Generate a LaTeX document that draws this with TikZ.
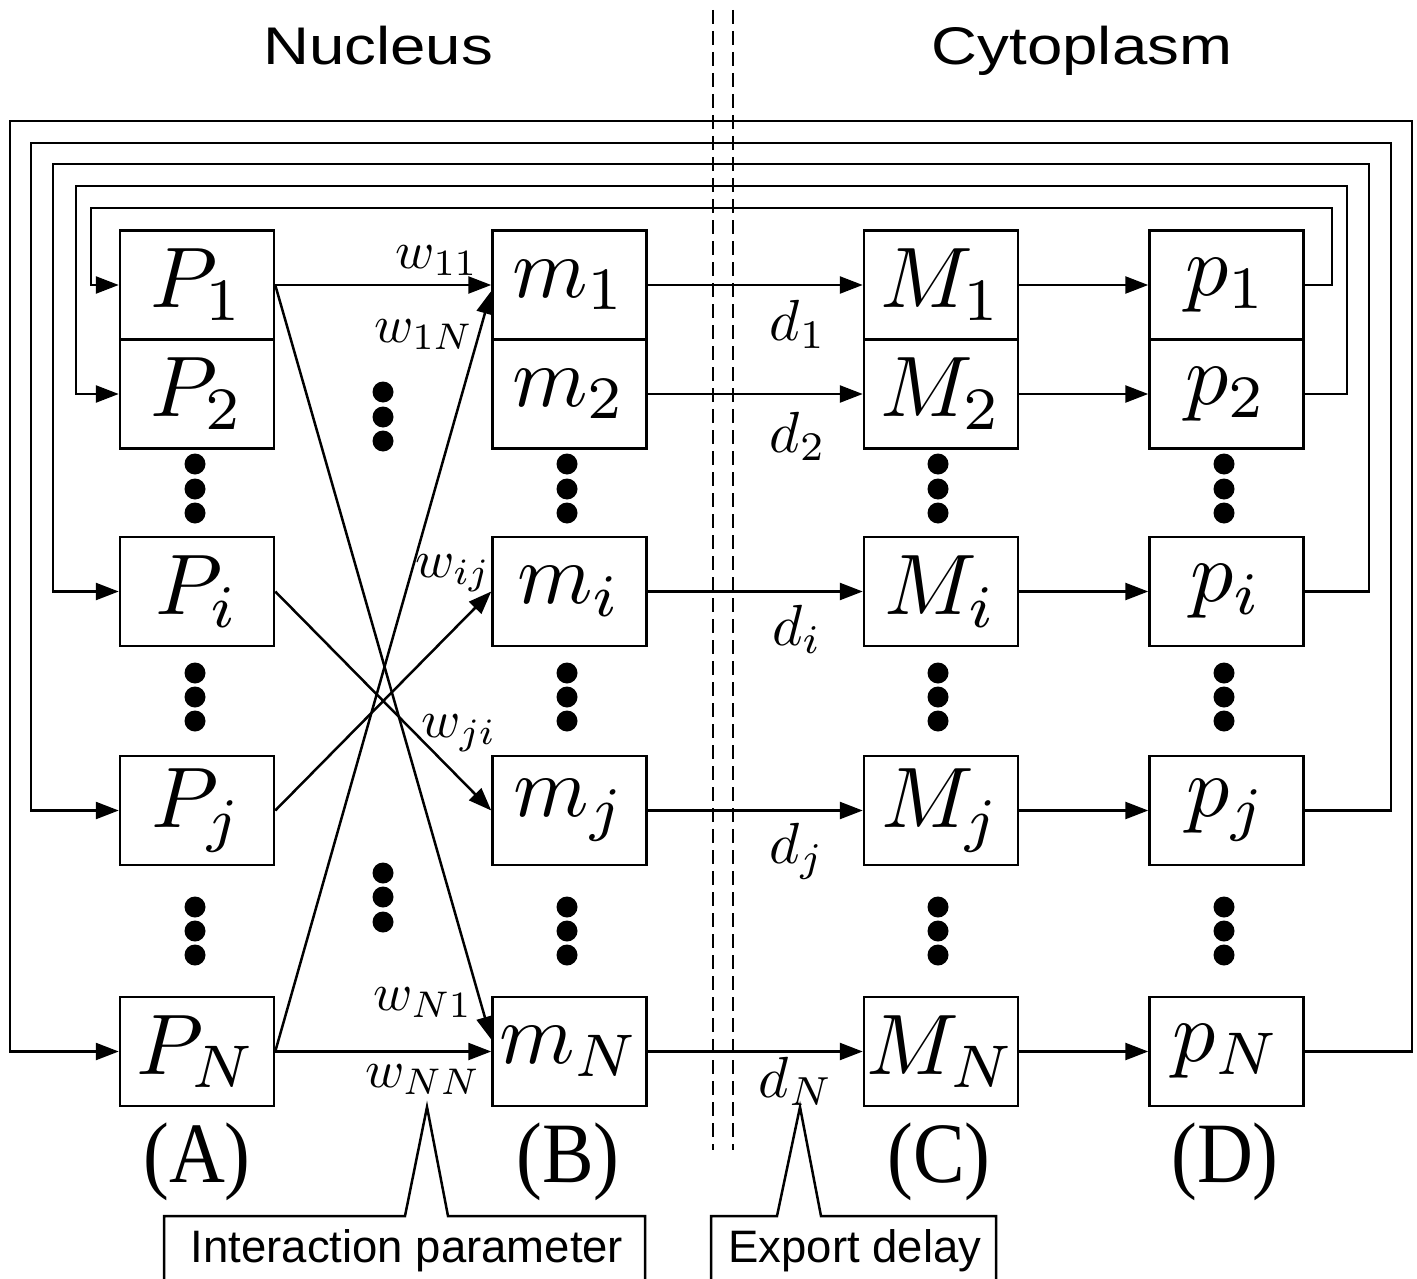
\RequirePackage{fix-cm}
\documentclass[tikz,border=0pt]{standalone}
\usepackage{fontspec}
\newfontfamily\hel{Liberation Sans}
\newfontfamily\tim{Liberation Serif}
\usetikzlibrary{arrows.meta}
\newcommand{\bx}[1]{\scalebox{8.6}{$#1$}}
\newcommand{\wlab}[1]{\scalebox{5.3}{$#1$}}
\newcommand{\dlab}[1]{\scalebox{5.8}{$#1$}}
\begin{document}
\begin{tikzpicture}[x=1pt,y=-1pt,
  box/.style={draw,line width=2.5pt,minimum width=154pt,minimum height=109pt,inner sep=0pt},
  arr/.style={line width=2.5pt,-{Triangle[length=23pt,width=17pt]}},
  ln/.style={line width=2.5pt},
  wl/.style={anchor=base,inner sep=0pt},
  dl/.style={anchor=base,inner sep=0pt},
  hd/.style={anchor=base,inner sep=0pt,font=\hel\fontsize{53}{56}\selectfont},
  cl/.style={anchor=base,inner sep=0pt,font=\tim\fontsize{86}{90}\selectfont},
  co/.style={anchor=base,inner sep=0pt,font=\hel\fontsize{45.5}{48}\selectfont},
  dsh/.style={line width=2pt,dash pattern=on 14pt off 7pt},
  dot/.style={fill=black}
]
\useasboundingbox (0,0) rectangle (1417,1279);
% boxes
\foreach \c/\x/\l in {A/197/P,B/569.5/m,C/941/M,D/1226.5/p}{
  \node[box] (\c1) at (\x,285) {\bx{\l_1}};
  \node[box] (\c2) at (\x,394) {\bx{\l_2}};
  \node[box] (\c i) at (\x,591.5) {\bx{\l_i}};
  \node[box] (\c j) at (\x,810.5) {\bx{\l_j}};
  \node[box] (\c N) at (\x,1051.5) {\bx{\l_N}};
}
% dots in columns
\foreach \x in {195,567,938,1224}{
  \foreach \y in {464,489,513,673,697,721,907,931,955}{
    \fill[dot] (\x,\y) circle (10.5pt);
  }
}
\foreach \y in {392,417,441,873,897,922}{
  \fill[dot] (383,\y) circle (10.5pt);
}
% A -> B
\draw[arr] (A1.east) -- (B1.west);
\draw[arr] (AN.east) -- (BN.west);
\draw[arr] (A1.east) -- ([yshift=12pt]BN.west);
\draw[arr] (AN.east) -- ([yshift=-6pt]B1.west);
\draw[arr] (Ai.east) -- (Bj.west);
\draw[arr] (Aj.east) -- (Bi.west);
% B -> C -> D
\foreach \r in {1,2,i,j,N}{
  \draw[arr] (B\r.east) -- (C\r.west);
  \draw[arr] (C\r.east) -- (D\r.west);
}
% feedback
\draw[arr] (D1.east) -| (1332,208) -| ([xshift=-28pt]A1.west) -- (A1.west);
\draw[arr] (D2.east) -| (1347,186) -| ([xshift=-43pt]A2.west) -- (A2.west);
\draw[arr] (Di.east) -| (1369,164) -| ([xshift=-66pt]Ai.west) -- (Ai.west);
\draw[arr] (Dj.east) -| (1391,143) -| ([xshift=-88pt]Aj.west) -- (Aj.west);
\draw[arr] (DN.east) -| (1412,121) -| ([xshift=-109pt]AN.west) -- (AN.west);
% w labels
\node[wl] (w11) at (437,268) {\wlab{w_{11}}};
\node[wl] (w1N) at (424,342) {\wlab{w_{1N}}};
\node[wl] (wij) at (453,577) {\wlab{w_{ij}}};
\node[wl] (wji) at (459,737) {\wlab{w_{ji}}};
\node[wl] (wN1) at (423,1010) {\wlab{w_{N1}}};
\node[wl] (wNN) at (423,1087) {\wlab{w_{NN}}};
% d labels
\node[dl] (d1) at (798,340) {\dlab{d_1}};
\node[dl] (d2) at (798,452) {\dlab{d_2}};
\node[dl] (di) at (797,645) {\dlab{d_i}};
\node[dl] (dj) at (797,863) {\dlab{d_j}};
\node[dl] (dN) at (796,1097) {\dlab{d_N}};
% dashed boundary
\draw[dsh] (713,10) -- (713,1150);
\draw[dsh] (733,10) -- (733,1150);
% headers
\node[hd] (nuc) at (378,65) {\scalebox{1.2}[1]{Nucleus}};
\node[hd] (cyt) at (1082,65) {\scalebox{1.2}[1]{Cytoplasm}};
% column labels
\node[cl] (lA) at (197,1182) {\scalebox{0.9}[1]{(A)}};
\node[cl] (lB) at (568,1182) {\scalebox{0.9}[1]{(B)}};
\node[cl] (lC) at (939,1182) {\scalebox{0.9}[1]{(C)}};
\node[cl] (lD) at (1225,1182) {\scalebox{0.9}[1]{(D)}};
% callouts
\coordinate (tw) at (427,1107);
\coordinate (td) at (800,1107);
\draw[ln] (164,1290) -- (164,1216) -- (405,1216) -- (tw) -- (448,1216) -- (645,1216) -- (645,1290);
\draw[ln] (711,1290) -- (711,1216) -- (777,1216) -- (td) -- (821,1216) -- (996,1216) -- (996,1290);
\node[co] (ip) at (407,1262) {Interaction parameter};
\node[co] (ed) at (855,1262) {Export delay};
\end{tikzpicture}
\end{document}
